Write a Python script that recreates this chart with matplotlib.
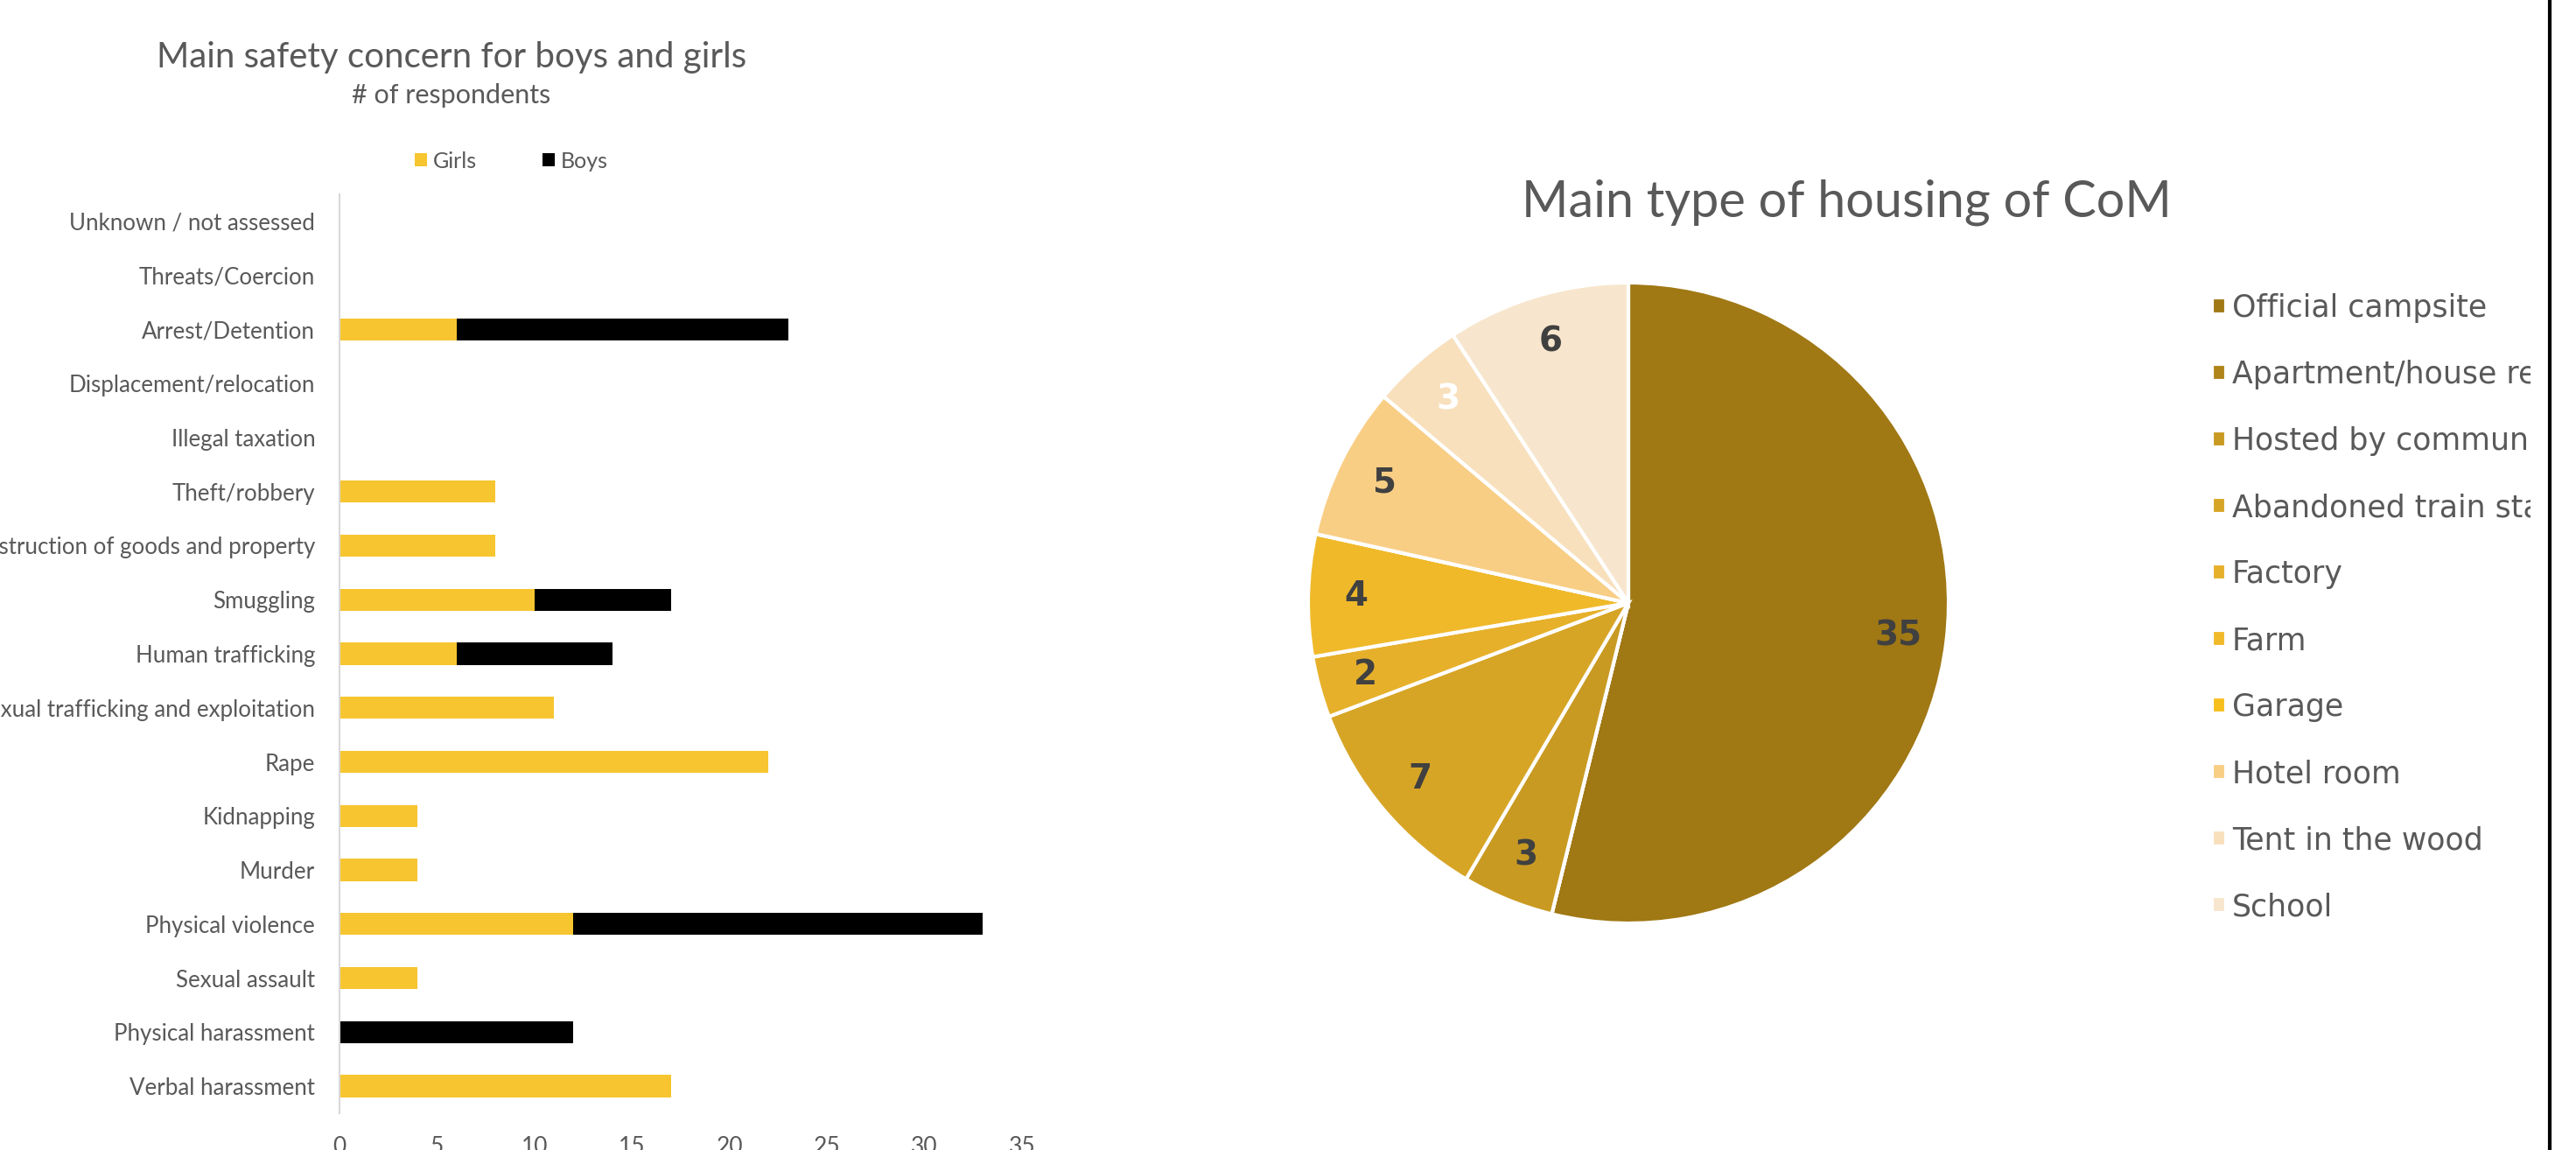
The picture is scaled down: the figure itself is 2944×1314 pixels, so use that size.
import matplotlib
matplotlib.use("Agg")
import matplotlib.pyplot as plt
from matplotlib.patches import Rectangle
from matplotlib.lines import Line2D

# ---------------- data ----------------
concerns = [
    "Unknown / not assessed", "Threats/Coercion", "Arrest/Detention",
    "Displacement/relocation", "Illegal taxation", "Theft/robbery",
    "Destruction of goods and property", "Smuggling", "Human trafficking",
    "Sexual trafficking and exploitation", "Rape", "Kidnapping", "Murder",
    "Physical violence", "Sexual assault", "Physical harassment",
    "Verbal harassment",
]
girls = [0, 0, 6, 0, 0, 8, 8, 10, 6, 11, 22, 4, 4, 12, 4, 0, 17]
boys = [0, 0, 17, 0, 0, 0, 0, 7, 8, 0, 0, 0, 0, 21, 0, 12, 0]
x_ticks = [0, 5, 10, 15, 20, 25, 30, 35]

housing = [
    "Official campsite", "Apartment/house rented", "Hosted by community",
    "Abandoned train station", "Factory", "Farm", "Garage", "Hotel room",
    "Tent in the wood", "School",
]
housing_counts = [35, 0, 3, 7, 2, 4, 0, 5, 3, 6]

# ---------------- style ----------------
W, H = 2944, 1314
DPI = 100
FONT = "Lato"
GREY = "#595959"
GIRL_C = "#F6C530"
BOY_C = "#000000"
pie_colors = ["#A07814", "#B08418", "#C99A22", "#D7A526", "#E6B02A",
              "#F0B92A", "#F6BF1E", "#F8CE85", "#F8E0BD", "#F7E6CD"]

plt.rcParams["font.family"] = [FONT, "DejaVu Sans"]

fig = plt.figure(figsize=(W / DPI, H / DPI), dpi=DPI)
fig.patch.set_facecolor("white")


def fx(px):
    return px / W


def fy(py):
    return 1 - py / H


# ---------------- bar chart ----------------
ax = fig.add_axes([fx(388), fy(1272), fx(1168) - fx(388), (1272 - 222) / H])
ypos = list(range(len(concerns)))
bh = 0.41
b1 = ax.barh(ypos, girls, height=bh, color=GIRL_C, label="Girls")
b2 = ax.barh(ypos, boys, left=girls, height=bh, color=BOY_C, label="Boys")
ax.set_ylim(-0.5, len(concerns) - 0.5)
ax.invert_yaxis()
ax.set_xlim(0, 35)
ax.set_xticks(x_ticks)
ax.set_yticks(ypos)
ax.set_yticklabels(concerns)
ax.tick_params(axis="y", length=0, pad=20, labelsize=18.6, labelcolor=GREY)
ax.tick_params(axis="x", length=0, pad=19, labelsize=19, labelcolor=GREY)
for s in ["top", "right", "bottom"]:
    ax.spines[s].set_visible(False)
ax.spines["left"].set_color("#D9D9D9")
ax.spines["left"].set_linewidth(1.5)

fig.text(fx(516), fy(77), "Main safety concern for boys and girls",
         ha="center", va="baseline", fontsize=29, color=GREY)
fig.text(fx(516), fy(118), "# of respondents",
         ha="center", va="baseline", fontsize=22, color=GREY)

fig.legend(handles=[b1, b2], labels=["Girls", "Boys"], ncol=2,
           loc="center left", bbox_to_anchor=(fx(474), fy(184)),
           bbox_transform=fig.transFigure, frameon=False, fontsize=18,
           labelcolor=GREY, handlelength=0.56, handleheight=0.56,
           handletextpad=0.28, columnspacing=3.0, borderpad=0,
           borderaxespad=0)

# ---------------- pie chart ----------------
pax = fig.add_axes([fx(1495), fy(1055), (2227 - 1495) / W, (1055 - 323) / H])
total = sum(housing_counts)


def fmt(pct):
    v = int(round(pct * total / 100.0))
    return "" if v == 0 else str(v)


wedges, texts, autotexts = pax.pie(
    housing_counts, colors=pie_colors, startangle=90, counterclock=False,
    autopct=fmt, pctdistance=0.85, radius=1.0,
    wedgeprops=dict(edgecolor="white", linewidth=3),
    textprops=dict(fontsize=28, fontweight="bold", color="#404040",
                   family=["DejaVu Sans"]),
)
autotexts[8].set_color("white")
pax.set_xlim(-1, 1)
pax.set_ylim(-1, 1)
pax.set_aspect("equal")
pax.axis("off")

fig.text(fx(2110), fy(247), "Main type of housing of CoM",
         ha="center", va="baseline", fontsize=41.5, color=GREY)

fig.legend(handles=wedges, labels=housing, loc="upper left",
           bbox_to_anchor=(fx(2528), fy(335)), bbox_transform=fig.transFigure,
           frameon=False, labelcolor=GREY,
           prop=dict(family=["DejaVu Sans"], size=25),
           handlelength=0.46, handleheight=0.46, handletextpad=0.2,
           labelspacing=1.21, borderpad=0, borderaxespad=0)

# clipping panel and border line on the right
fig.add_artist(Rectangle((fx(2892), 0), 1 - fx(2892), 1,
                         transform=fig.transFigure, facecolor="white",
                         edgecolor="none", zorder=10))
fig.add_artist(Line2D([fx(2914), fx(2914)], [0, 1], transform=fig.transFigure,
                      color="black", linewidth=3, zorder=11))

fig.savefig("out.png", dpi=DPI, facecolor="white")
